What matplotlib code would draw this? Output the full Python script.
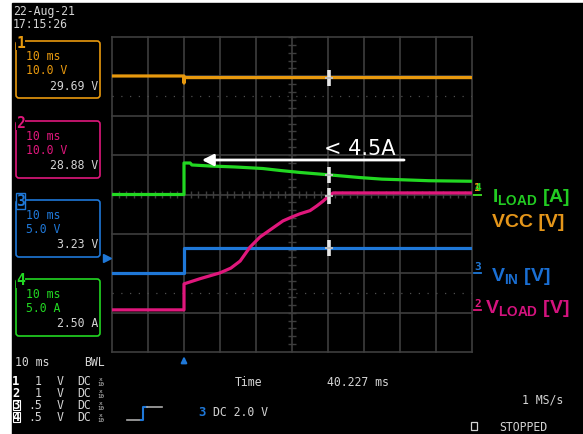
import numpy as np
import matplotlib
matplotlib.use("Agg")
import matplotlib.pyplot as plt
from matplotlib.patches import Rectangle, FancyBboxPatch

plt.rcParams['mathtext.default'] = 'regular'

# ---- channel setup: units per division and ground offset (divisions) ----
channels = ['VCC', 'VLOAD', 'VIN', 'ILOAD']
ch_scale = {'VCC': 10.0, 'VLOAD': 10.0, 'VIN': 5.0, 'ILOAD': 5.0}
ch_offset = {'VCC': 0.0, 'VLOAD': -2.93, 'VIN': -2.0, 'ILOAD': 0.0}
ch_color = {'VCC': '#e8990e', 'VLOAD': '#e0177c', 'VIN': '#1f78d8', 'ILOAD': '#22d822'}

# ---- captured waveforms (time in ms relative to trigger) ----
t_vcc = [-20, -0.01, 0.0, 0.08, 80]
v_vcc = [30.1, 30.1, 28.3, 29.69, 29.69]

t_iload = [-20, 0, 0, 1.7, 2.2, 7.2, 14, 21.9, 26.7, 32.2, 40.2, 48.9, 55, 60, 68, 80]
i_iload = [0, 0, 4.0, 4.0, 3.75, 3.62, 3.5, 3.3, 3.05, 2.8, 2.50, 2.15, 1.95, 1.88, 1.75, 1.68]

t_vload = [-20, 0, 0, 4.4, 10, 13, 15.6, 18.3, 21.1, 23.9, 27.5, 30, 32.2, 35, 36.9, 38.6, 40.2, 41.4, 80]
v_vload = [0, 0, 6.6, 7.9, 9.4, 10.6, 12.4, 15.9, 18.5, 20.3, 22.6, 23.6, 24.4, 25.2, 26.4, 27.6, 28.88, 29.7, 29.7]

t_vin = [-20, 0, 0, 80]
v_vin = [0, 0, 3.23, 3.23]

# cursor readout
cursor_t = 40.227
cursor_vals = {'VCC': 29.69, 'VLOAD': 28.88, 'VIN': 3.23, 'ILOAD': 2.50}
trigger_level = 2.0  # volts on channel 3

panel_info = [  # (number, channel, time/div, vert/div, readout)
    ('1', 'VCC', '10 ms', '10.0 V', '29.69 V'),
    ('2', 'VLOAD', '10 ms', '10.0 V', '28.88 V'),
    ('3', 'VIN', '10 ms', '5.0 V', '3.23 V'),
    ('4', 'ILOAD', '10 ms', '5.0 A', '2.50 A'),
]
probe_rows = [('1', '1'), ('2', '1'), ('3', '.5'), ('4', '.5')]


def to_div(name, vals):
    return np.asarray(vals, dtype=float) / ch_scale[name] + ch_offset[name]


W, H = 583, 435
fig = plt.figure(figsize=(W / 100, H / 100), dpi=100, facecolor='white')

# full-screen layer in pixel units for the instrument display
ov = fig.add_axes([0, 0, 1, 1])
ov.set_xlim(0, W)
ov.set_ylim(H, 0)
ov.axis('off')
ov.add_patch(Rectangle((12, 4), W - 12, H - 4, color='black', zorder=0))

MONO = 'DejaVu Sans Mono'
TXT = '#d4d4d4'
GRID = '#3e3e3e'

# ---- waveform area ----
ax = fig.add_axes([112 / W, (H - 353) / H, 360 / W, 315 / H])
ax.set_xlim(-20, 80)
ax.set_ylim(-4, 4)
ax.axis('off')

for t in range(-20, 81, 10):
    ax.axvline(t, color=GRID, lw=1.2, clip_on=False, zorder=1)
for d in range(-4, 5):
    ax.axhline(d, color=GRID, lw=1.2, clip_on=False, zorder=1)
for d in (2.5, -2.5):
    ax.axhline(d, color='#4e4e4e', lw=0.9, ls=(0, (1, 6)), zorder=1)
# graduated centre axes
ax.vlines(np.arange(-20, 80.01, 2), -0.1, 0.1, color=GRID, lw=1.0, zorder=1)
ax.hlines(np.arange(-4, 4.01, 0.2), 30 - 1.2, 30 + 1.2, color=GRID, lw=1.0, zorder=1)

lw = 2.3
ax.plot(t_vcc, to_div('VCC', v_vcc), color=ch_color['VCC'], lw=lw, zorder=3)
ax.plot(t_iload, to_div('ILOAD', i_iload), color=ch_color['ILOAD'], lw=lw, zorder=3)
ax.plot(t_vin, to_div('VIN', v_vin), color=ch_color['VIN'], lw=lw, zorder=3)
ax.plot(t_vload, to_div('VLOAD', v_vload), color=ch_color['VLOAD'], lw=lw, zorder=4)

# time cursor crossings
for name in channels:
    y = to_div(name, [cursor_vals[name]])[0]
    ax.plot(cursor_t, y, marker='|', ms=11, mew=2.6, color='#e6e6e6', zorder=6)
    ax.plot(cursor_t, y, marker='_', ms=6, mew=1.4, color='#bdbdbd', zorder=6)

# annotation arrow and text
ax.annotate('', xy=(4.2, 0.876), xytext=(61.9, 0.876),
            arrowprops=dict(arrowstyle='-|>', color='white', lw=2.0, mutation_scale=17),
            zorder=7)
ax.text(39.0, 1.03, '< 4.5A', color='white', fontsize=15, family='DejaVu Sans',
        ha='left', va='baseline', zorder=7)

# trigger markers
trig_div = trigger_level / ch_scale['VIN'] + ch_offset['VIN']
ax.plot(-21.4, trig_div, marker='>', ms=6, color=ch_color['VIN'], clip_on=False, zorder=5)
ax.annotate('', xy=(0, -4.04), xytext=(0, -4.3), annotation_clip=False,
            arrowprops=dict(arrowstyle='-|>', color=ch_color['VIN'], lw=1.6, mutation_scale=8))

# ground-level markers on right edge
for num, name in (('1', 'VCC'), ('4', 'ILOAD'), ('3', 'VIN'), ('2', 'VLOAD')):
    g = ch_offset[name]
    ax.plot([80.6, 82.4], [g, g], color=ch_color[name], lw=1.3, clip_on=False, zorder=5)
    ax.text(81.5, g + 0.06, num, color=ch_color[name], fontsize=8, family=MONO,
            fontweight='bold', ha='center', va='bottom', clip_on=False, zorder=5)

# ---- header ----
ov.text(13, 11, '22-Aug-21', color=TXT, fontsize=8.3, family=MONO, va='center')
ov.text(13, 25, '17:15:26', color=TXT, fontsize=8.3, family=MONO, va='center')

# ---- channel panels ----
box_tops = [42, 122, 201, 280]
for (num, name, tdiv, vdiv, reading), top in zip(panel_info, box_tops):
    c = ch_color[name]
    ov.add_patch(FancyBboxPatch((16, top), 84, 57, boxstyle='round,pad=0,rounding_size=3',
                                fc='none', ec=c, lw=1.2, zorder=2))
    bb = dict(fc='black', ec=c if num == '3' else 'none', lw=1.0, pad=0.4)
    ov.text(20.5, top + 1, num, color=c, fontsize=10.5, family=MONO, fontweight='bold',
            ha='center', va='center', bbox=bb, zorder=3)
    ov.text(26, top + 15, tdiv, color=c, fontsize=8.3, family=MONO, va='center')
    ov.text(26, top + 29, vdiv, color=c, fontsize=8.3, family=MONO, va='center')
    ov.text(98, top + 44, reading, color=TXT, fontsize=8.3, family=MONO, va='center', ha='right')

# ---- bottom status area ----
ov.text(15, 363, '10 ms', color=TXT, fontsize=8.3, family=MONO, va='center')
ov.text(84, 363, 'BWL', color=TXT, fontsize=8.3, family=MONO, va='center')
for (num, probe), y in zip(probe_rows, [382, 394, 406, 418]):
    if num in ('3', '4'):
        ov.add_patch(Rectangle((12.5, y - 5), 7, 10, fc='none', ec='white', lw=0.8))
    ov.text(16, y, num, color='white', fontsize=8.8, family=MONO, fontweight='bold',
            ha='center', va='center')
    ov.text(42, y, probe, color=TXT, fontsize=8.3, family=MONO, va='center', ha='right')
    ov.text(57, y, 'V', color=TXT, fontsize=8.3, family=MONO, va='center')
    ov.text(77, y, 'DC', color=TXT, fontsize=8.3, family=MONO, va='center')
    ov.text(101, y - 2.5, 'x', color=TXT, fontsize=4.5, family=MONO, va='center', ha='center')
    ov.text(101, y + 2.5, '10', color=TXT, fontsize=4.2, family=MONO, va='center', ha='center')

ov.text(235, 383, 'Time', color=TXT, fontsize=8.3, family=MONO, va='center')
ov.text(327, 383, '40.227 ms', color=TXT, fontsize=8.3, family=MONO, va='center')
ov.text(522, 400, '1 MS/s', color=TXT, fontsize=8.3, family=MONO, va='center')
ov.text(198, 413, '3', color=ch_color['VIN'], fontsize=8.8, family=MONO, fontweight='bold', va='center')
ov.text(213, 413, 'DC 2.0 V', color=TXT, fontsize=8.3, family=MONO, va='center')
ov.add_patch(Rectangle((471, 423), 6, 8, fc='none', ec=TXT, lw=0.9))
ov.text(499, 428, 'STOPPED', color=TXT, fontsize=8.3, family=MONO, va='center')

# trigger slope icon
ov.plot([127, 141], [421, 421], color='#aaaaaa', lw=1.2)
ov.plot([141, 143, 143, 147], [421, 421, 408, 408], color=ch_color['VIN'], lw=1.5)
ov.plot([147, 162], [408, 408], color='#aaaaaa', lw=1.2)

# ---- signal names ----
LBL = dict(fontsize=14, family='Liberation Sans', fontweight='bold', va='baseline')
ov.text(492, 202, 'I$_{LOAD}$ [A]', color='#22cc22', **LBL)
ov.text(492, 227, 'VCC [V]', color='#e5961a', **LBL)
ov.text(491, 281, 'V$_{IN}$ [V]', color='#1a6fd4', **LBL)
ov.text(485, 313, 'V$_{LOAD}$ [V]', color='#d4137e', **LBL)

fig.savefig('out.png', dpi=100, facecolor='white')
